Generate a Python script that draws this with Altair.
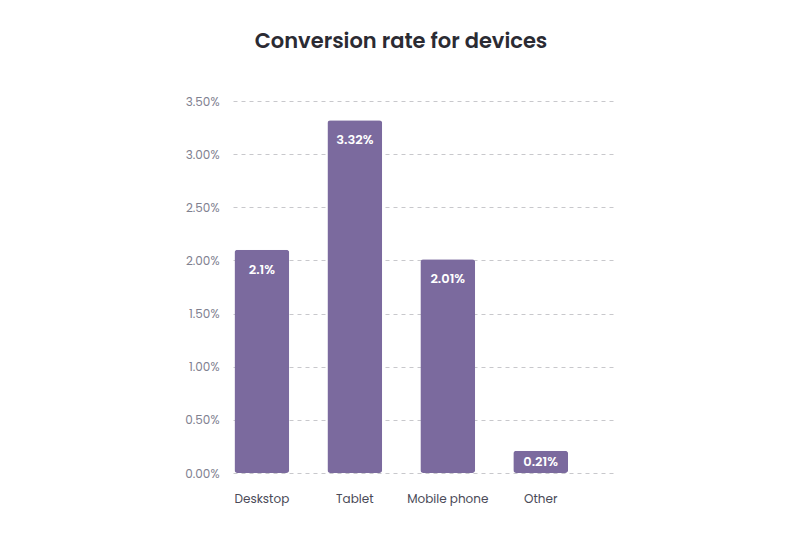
import altair as alt
import pandas as pd

devices = ["Deskstop", "Tablet", "Mobile phone", "Other"]
rates = [2.1, 3.32, 2.01, 0.21]
labels = ["2.1%", "3.32%", "2.01%", "0.21%"]

df = pd.DataFrame({"device": devices, "rate": rates, "label": labels})

FONT = "Poppins, Inter, Open Sans, sans-serif"
BAR = "#7b6a9e"

x = alt.X("device:N", sort=devices, title=None,
          scale=alt.Scale(paddingInner=0.41, paddingOuter=0.26, align=0.03),
          axis=alt.Axis(labelAngle=0, ticks=False, domain=False, labelPadding=20,
                        labelFontSize=12, labelColor="#4a4a57", labelFont=FONT))
y = alt.Y("rate:Q", title=None,
          scale=alt.Scale(domain=[0, 3.5], nice=False),
          axis=alt.Axis(values=[0, 0.5, 1, 1.5, 2, 2.5, 3, 3.5],
                        labelExpr="format(datum.value, '.2f') + '%'",
                        ticks=False, domain=False, labelPadding=14,
                        labelFontSize=12, labelColor="#80808f", labelFont=FONT,
                        gridDash=[4, 4], gridColor="#c8c8cc", gridWidth=1))

base = alt.Chart(df)
bars = base.mark_bar(color=BAR, cornerRadius=3).encode(x=x, y=y)
text_big = base.transform_filter("datum.rate >= 0.5").mark_text(
    color="white", fontSize=13, fontWeight=600, font=FONT, baseline="middle", dy=20
).encode(x=alt.X("device:N", sort=devices), y="rate:Q", text="label:N")
text_small = base.transform_filter("datum.rate < 0.5").transform_calculate(
    mid="datum.rate / 2").mark_text(
    color="white", fontSize=13, fontWeight=600, font=FONT, baseline="middle"
).encode(x=alt.X("device:N", sort=devices), y="mid:Q", text="label:N")

chart = (bars + text_big + text_small).properties(
    width=382, height=372,
    padding={"left": 225, "top": 93, "right": 177, "bottom": 54},
    autosize=alt.AutoSizeParams(type="none"),
    title=alt.TitleParams("Conversion rate for devices", fontSize=21, fontWeight=600,
                          font=FONT, color="#2b2b33", anchor="middle", dx=-23, offset=43),
).configure_view(stroke=None)

chart.save("out.html", embed_options={"renderer": "svg", "actions": False})
